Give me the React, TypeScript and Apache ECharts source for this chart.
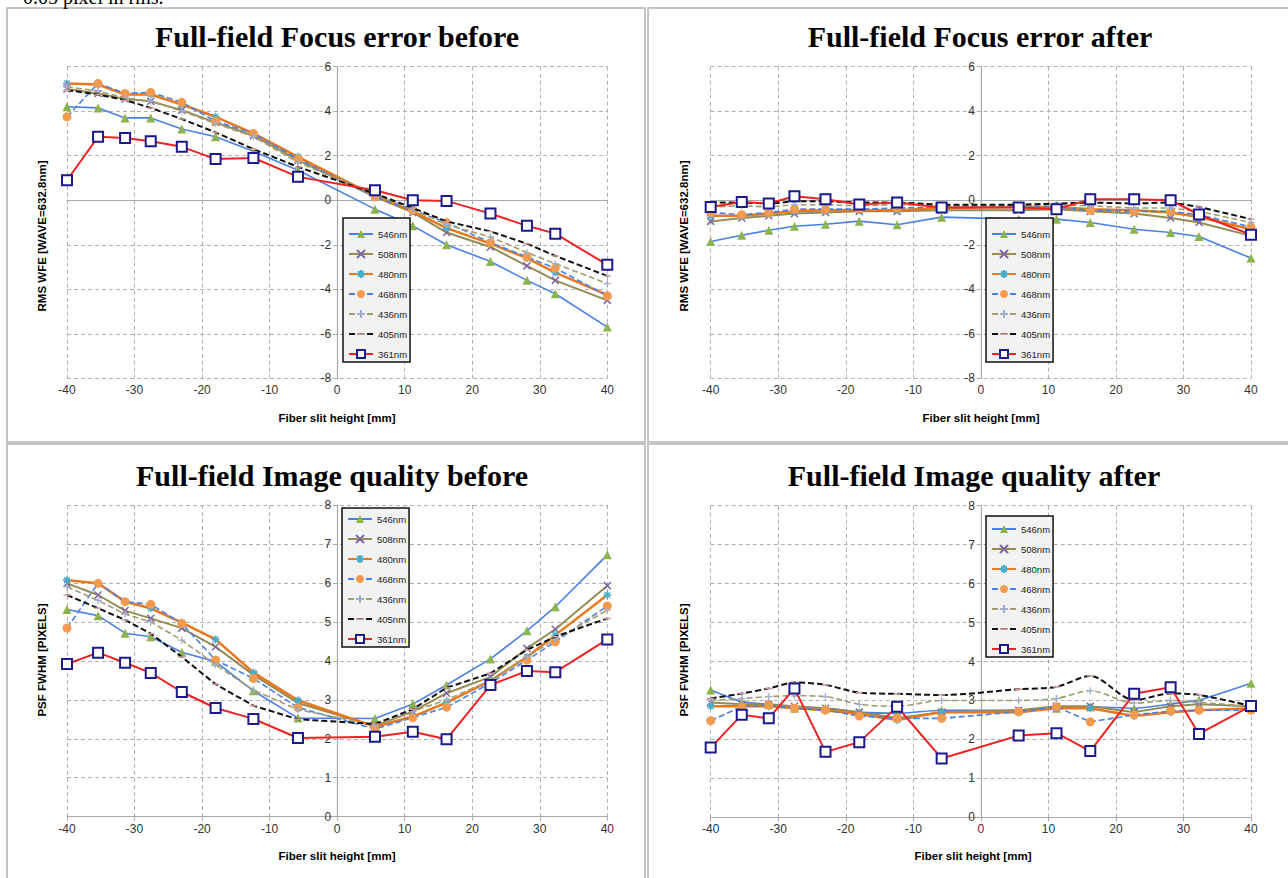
import React, { useEffect, useRef } from "react";
import * as echarts from "echarts";

// ---------- DATA ----------
const X_VALUES = [-40, -35.4, -31.4, -27.6, -23, -18, -12.4, -5.8, 5.6, 11.2, 16.2, 22.7, 28.1, 32.3, 40];
const WAVELENGTHS = ["546nm", "508nm", "480nm", "468nm", "436nm", "405nm", "361nm"];

const FOCUS_BEFORE_546 = [4.2, 4.15, 3.7, 3.7, 3.2, 2.85, 2.2, 1.35, -0.4, -1.15, -2.0, -2.75, -3.6, -4.2, -5.7];
const FOCUS_BEFORE_508 = [5.0, 4.8, 4.55, 4.45, 4.05, 3.5, 2.9, 1.8, 0.15, -0.55, -1.45, -2.1, -2.95, -3.6, -4.5];
const FOCUS_BEFORE_480 = [5.25, 5.2, 4.75, 4.75, 4.3, 3.75, 3.0, 1.95, 0.2, -0.5, -1.25, -1.95, -2.6, -3.25, -4.25];
const FOCUS_BEFORE_468 = [3.75, 5.25, 4.8, 4.85, 4.4, 3.55, 3.0, 1.85, 0.15, -0.45, -1.0, -1.9, -2.55, -3.05, -4.3];
const FOCUS_BEFORE_436 = [5.1, 4.9, 4.6, 4.45, 4.0, 3.45, 2.85, 1.7, 0.25, -0.4, -1.1, -1.65, -2.35, -2.85, -3.75];
const FOCUS_BEFORE_405 = [4.95, 4.75, 4.5, 4.15, 3.65, 3.05, 2.3, 1.5, 0.3, -0.35, -0.95, -1.4, -1.95, -2.5, -3.4];
const FOCUS_BEFORE_361 = [0.9, 2.85, 2.8, 2.65, 2.4, 1.85, 1.9, 1.05, 0.45, 0.0, -0.03, -0.6, -1.15, -1.5, -2.9];

const FOCUS_AFTER_546 = [-1.85, -1.57, -1.35, -1.17, -1.08, -0.94, -1.1, -0.76, -0.85, -0.85, -1.0, -1.3, -1.45, -1.63, -2.6];
const FOCUS_AFTER_508 = [-0.95, -0.8, -0.7, -0.6, -0.55, -0.5, -0.5, -0.45, -0.45, -0.4, -0.5, -0.6, -0.8, -1.0, -1.6];
const FOCUS_AFTER_480 = [-0.7, -0.7, -0.6, -0.5, -0.45, -0.45, -0.45, -0.35, -0.3, -0.3, -0.4, -0.45, -0.55, -0.75, -1.3];
const FOCUS_AFTER_468 = [-0.55, -0.65, -0.55, -0.4, -0.4, -0.4, -0.35, -0.3, -0.3, -0.3, -0.45, -0.5, -0.5, -0.65, -1.2];
const FOCUS_AFTER_436 = [-0.3, -0.25, -0.3, -0.2, -0.2, -0.25, -0.2, -0.25, -0.25, -0.2, -0.25, -0.35, -0.35, -0.5, -1.0];
const FOCUS_AFTER_405 = [-0.1, -0.1, -0.15, -0.05, -0.05, -0.1, -0.1, -0.2, -0.2, -0.15, -0.1, -0.15, -0.1, -0.3, -0.85];
const FOCUS_AFTER_361 = [-0.3, -0.08, -0.15, 0.18, 0.04, -0.19, -0.1, -0.33, -0.33, -0.4, 0.04, 0.04, 0.0, -0.64, -1.55];

const IQ_BEFORE_546 = [5.32, 5.16, 4.71, 4.62, 4.22, 3.98, 3.23, 2.53, 2.52, 2.89, 3.38, 4.05, 4.77, 5.39, 6.72];
const IQ_BEFORE_508 = [5.99, 5.69, 5.29, 5.09, 4.84, 4.36, 3.64, 2.92, 2.33, 2.7, 3.17, 3.59, 4.32, 4.81, 5.93];
const IQ_BEFORE_480 = [6.07, 5.99, 5.52, 5.35, 4.98, 4.55, 3.7, 2.99, 2.31, 2.57, 2.93, 3.49, 4.1, 4.66, 5.69];
const IQ_BEFORE_468 = [4.84, 5.99, 5.52, 5.45, 4.96, 4.02, 3.55, 2.8, 2.25, 2.54, 2.81, 3.43, 4.02, 4.49, 5.41];
const IQ_BEFORE_436 = [5.9, 5.55, 5.2, 5.0, 4.53, 3.9, 3.25, 2.75, 2.35, 2.7, 3.0, 3.5, 4.1, 4.55, 5.3];
const IQ_BEFORE_405 = [5.69, 5.35, 5.05, 4.7, 4.1, 3.4, 2.85, 2.5, 2.38, 2.76, 3.31, 3.68, 4.28, 4.62, 5.09];
const IQ_BEFORE_361 = [3.92, 4.21, 3.95, 3.69, 3.2, 2.79, 2.51, 2.02, 2.05, 2.18, 1.99, 3.38, 3.74, 3.71, 4.55];

const IQ_AFTER_546 = [3.27, 2.97, 2.9, 2.8, 2.8, 2.7, 2.67, 2.75, 2.75, 2.8, 2.84, 2.8, 2.91, 3.01, 3.44];
const IQ_AFTER_508 = [2.95, 2.9, 2.9, 2.85, 2.8, 2.7, 2.55, 2.7, 2.75, 2.85, 2.85, 2.7, 2.85, 2.9, 2.85];
const IQ_AFTER_480 = [2.85, 2.85, 2.85, 2.8, 2.75, 2.65, 2.5, 2.7, 2.7, 2.8, 2.8, 2.6, 2.7, 2.75, 2.8];
const IQ_AFTER_468 = [2.48, 2.84, 2.88, 2.8, 2.75, 2.6, 2.54, 2.54, 2.71, 2.84, 2.45, 2.63, 2.73, 2.75, 2.75];
const IQ_AFTER_436 = [3.0, 3.05, 3.1, 3.12, 3.1, 2.9, 2.85, 3.0, 3.0, 3.05, 3.25, 2.93, 3.0, 2.95, 2.85];
const IQ_AFTER_405 = [3.05, 3.18, 3.31, 3.46, 3.4, 3.2, 3.17, 3.14, 3.29, 3.35, 3.63, 3.01, 3.18, 3.14, 2.86];
const IQ_AFTER_361 = [1.79, 2.63, 2.54, 3.31, 1.68, 1.93, 2.84, 1.51, 2.1, 2.16, 1.7, 3.17, 3.34, 2.14, 2.86];

const PANEL_TITLES = [
  "Full-field Focus error before",
  "Full-field Focus error after",
  "Full-field Image quality before",
  "Full-field Image quality after",
];
const Y_NAMES = ["RMS WFE [WAVE=632.8nm]", "RMS WFE [WAVE=632.8nm]", "PSF FWHM [PIXELS]", "PSF FWHM [PIXELS]"];
const X_NAME = "Fiber slit height [mm]";

const PANEL_DATA = [
  [FOCUS_BEFORE_546, FOCUS_BEFORE_508, FOCUS_BEFORE_480, FOCUS_BEFORE_468, FOCUS_BEFORE_436, FOCUS_BEFORE_405, FOCUS_BEFORE_361],
  [FOCUS_AFTER_546, FOCUS_AFTER_508, FOCUS_AFTER_480, FOCUS_AFTER_468, FOCUS_AFTER_436, FOCUS_AFTER_405, FOCUS_AFTER_361],
  [IQ_BEFORE_546, IQ_BEFORE_508, IQ_BEFORE_480, IQ_BEFORE_468, IQ_BEFORE_436, IQ_BEFORE_405, IQ_BEFORE_361],
  [IQ_AFTER_546, IQ_AFTER_508, IQ_AFTER_480, IQ_AFTER_468, IQ_AFTER_436, IQ_AFTER_405, IQ_AFTER_361],
];

// ---------- STYLE ----------
const SYM_X = "path://M0,0L10,10M10,0L0,10";
const SYM_AST = "path://M5,0L5,10M0,5L10,5M1.5,1.5L8.5,8.5M8.5,1.5L1.5,8.5";
const SYM_PLUS = "path://M5,0L5,10M0,5L10,5";
const SYM_DASH = "path://M0,0L0.01,0M0,4L10,4L10,6.2L0,6.2ZM10,10L9.99,10";

const SERIES_STYLES: any[] = [
  { line: { color: "#4a80e6", width: 1.6, type: "solid" }, symbol: "triangle", symbolSize: 9, item: { color: "#8cb34e" } },
  { line: { color: "#958b55", width: 2, type: "solid" }, symbol: SYM_X, symbolSize: 7, item: { color: "#7f67a3", borderColor: "#7f67a3", borderWidth: 1.5 } },
  { line: { color: "#e8781e", width: 2.5, type: "solid" }, symbol: SYM_AST, symbolSize: 8, item: { color: "#4bacc6", borderColor: "#4bacc6", borderWidth: 1.5 } },
  { line: { color: "#4a80e6", width: 1.6, type: [6, 3] }, symbol: "circle", symbolSize: 9, item: { color: "#f39a4e" } },
  { line: { color: "#a39c6e", width: 1.6, type: [6, 3] }, symbol: SYM_PLUS, symbolSize: 7, item: { color: "#9fb0cc", borderColor: "#9fb0cc", borderWidth: 1.3 } },
  { line: { color: "#111111", width: 2, type: [6, 3] }, symbol: SYM_DASH, symbolSize: 7, item: { color: "#d09a9a" } },
  { line: { color: "#ee2222", width: 2, type: "solid" }, symbol: "rect", symbolSize: 10, item: { color: "#ffffff", borderColor: "#1a1a8c", borderWidth: 2 } },
];
// smoothing per panel (the "after" image-quality panel was drawn with smoothed lines for some series)
const PANEL_SMOOTH = [
  [0, 0, 0, 0, 0, 0, 0],
  [0, 0, 0, 0, 0, 0, 0],
  [0, 0, 0, 0, 0, 0, 0],
  [0.2, 0, 0, 0, 0.3, 0.3, 0],
];

const GRIDS = [
  { left: 67, top: 66.7, width: 540.3, height: 311.6 },
  { left: 710.7, top: 66.7, width: 540.3, height: 311.6 },
  { left: 67, top: 505, width: 540.3, height: 311.7 },
  { left: 710.7, top: 505.7, width: 540.3, height: 311.6 },
];
const Y_RANGES = [
  { min: -8, max: 6, interval: 2 },
  { min: -8, max: 6, interval: 2 },
  { min: 0, max: 8, interval: 1 },
  { min: 0, max: 8, interval: 1 },
];
const LEGENDS = [
  { left: 343, top: 218, padding: [11, 3, 3, 5] },
  { left: 986, top: 218, padding: [11, 3, 3, 5] },
  { left: 342, top: 508, padding: [6, 3, 3, 5] },
  { left: 986, top: 516, padding: [8, 3, 3, 5] },
];
const TITLE_POS = [
  { x: 337, y: 36.5 },
  { x: 980, y: 36.5 },
  { x: 332, y: 475.5 },
  { x: 974, y: 475.5 },
];
const YNAME_POS = [
  { x: 42, y: 236 },
  { x: 684, y: 236 },
  { x: 42, y: 660 },
  { x: 684, y: 660 },
];
const XNAME_POS = [
  { x: 337, y: 418 },
  { x: 981, y: 418 },
  { x: 337, y: 856 },
  { x: 973, y: 856 },
];
const PANEL_BOXES = [
  { x: 7, y: 8, width: 638, height: 434 },
  { x: 648, y: 8, width: 650, height: 434 },
  { x: 7, y: 444, width: 638, height: 444 },
  { x: 648, y: 444, width: 650, height: 444 },
];

const SANS = "'Liberation Sans', Arial, Helvetica, sans-serif";
const SERIF = "'Liberation Serif', 'Times New Roman', serif";

function buildOption() {
  const grid = GRIDS.map((g) => ({ ...g, containLabel: false, outerBoundsMode: "none" }));
  const xAxis = GRIDS.map((_, i) => ({
    gridIndex: i,
    type: "value",
    min: -40,
    max: 40,
    interval: 10,
    axisLine: { show: true, onZero: true, lineStyle: { color: "#a8a8a8", width: 1.2 } },
    axisTick: { show: true, length: 4, lineStyle: { color: "#a8a8a8" } },
    axisLabel: { color: "#333", fontSize: 12, fontFamily: SANS, margin: 6, showMinLabel: true, showMaxLabel: true },
    splitLine: { show: true, lineStyle: { color: "#b0b0b0", type: [4, 3], width: 1 } },
  }));
  const yAxis = GRIDS.map((g, i) => ({
    gridIndex: i,
    type: "value",
    position: "left",
    offset: -g.width / 2,
    ...Y_RANGES[i],
    axisLine: { show: true, onZero: false, lineStyle: { color: "#a8a8a8", width: 1.2 } },
    axisTick: { show: true, length: 4, lineStyle: { color: "#a8a8a8" } },
    axisLabel: { color: "#333", fontSize: 12, fontFamily: SANS, margin: 6, showMinLabel: true, showMaxLabel: true },
    splitLine: { show: true, lineStyle: { color: "#b0b0b0", type: [4, 3], width: 1 } },
  }));
  const series: any[] = [];
  PANEL_DATA.forEach((panel, p) => {
    panel.forEach((vals, s) => {
      const st = SERIES_STYLES[s];
      series.push({
        type: "line",
        name: WAVELENGTHS[s],
        xAxisIndex: p,
        yAxisIndex: p,
        data: X_VALUES.map((x, k) => [x, vals[k]]),
        symbol: st.symbol,
        symbolSize: st.symbolSize,
        showSymbol: true,
        showAllSymbol: true,
        smooth: PANEL_SMOOTH[p][s] || false,
        lineStyle: st.line,
        itemStyle: st.item,
        silent: true,
        emphasis: { disabled: true },
        z: 2 + s,
      });
    });
  });
  const legend = LEGENDS.map((l) => ({
    orient: "vertical",
    left: l.left,
    top: l.top,
    padding: l.padding,
    data: WAVELENGTHS,
    itemWidth: 24,
    itemHeight: 10,
    itemGap: 10,
    backgroundColor: "#f2f2f2",
    borderColor: "#111",
    borderWidth: 1.5,
    borderRadius: 0,
    selectedMode: false,
    textStyle: { fontSize: 9.5, color: "#222", fontFamily: SANS },
  }));
  const graphic: any[] = [];
  PANEL_BOXES.forEach((b) => {
    graphic.push({
      type: "rect",
      shape: b,
      style: { fill: "none", stroke: "#c4c4c4", lineWidth: 2 },
      silent: true,
      z: 0,
    });
  });
  graphic.push({
    type: "text",
    x: 23,
    y: -3,
    style: { text: "0.05 pixel in rms.", font: "20px " + SERIF, fill: "#000", textAlign: "left", textVerticalAlign: "middle", align: "left", verticalAlign: "middle" },
  });
  PANEL_TITLES.forEach((t, i) => {
    graphic.push({
      type: "text",
      x: TITLE_POS[i].x,
      y: TITLE_POS[i].y,
      style: { text: t, font: "bold 30px " + SERIF, fill: "#000", textAlign: "center", textVerticalAlign: "middle", align: "center", verticalAlign: "middle" },
    });
    graphic.push({
      type: "text",
      x: YNAME_POS[i].x,
      y: YNAME_POS[i].y,
      rotation: Math.PI / 2,
      style: { text: Y_NAMES[i], font: "bold 11.5px " + SANS, fill: "#000", textAlign: "center", textVerticalAlign: "middle", align: "center", verticalAlign: "middle" },
    });
    graphic.push({
      type: "text",
      x: XNAME_POS[i].x,
      y: XNAME_POS[i].y,
      style: { text: X_NAME, font: "bold 11.5px " + SANS, fill: "#000", textAlign: "center", textVerticalAlign: "middle", align: "center", verticalAlign: "middle" },
    });
  });
  return {
    animation: false,
    backgroundColor: "#ffffff",
    grid,
    xAxis,
    yAxis,
    legend,
    series,
    graphic,
  };
}

export default function App() {
  const ref = useRef<HTMLDivElement>(null);
  useEffect(() => {
    if (!ref.current) return;
    const chart = echarts.init(ref.current, undefined, { renderer: "svg" });
    chart.setOption(buildOption() as any);
    return () => chart.dispose();
  }, []);
  return (
    <div
      ref={ref}
      style={{ position: "fixed", left: 0, top: 0, width: 1288, height: 878, background: "#fff" }}
    />
  );
}
